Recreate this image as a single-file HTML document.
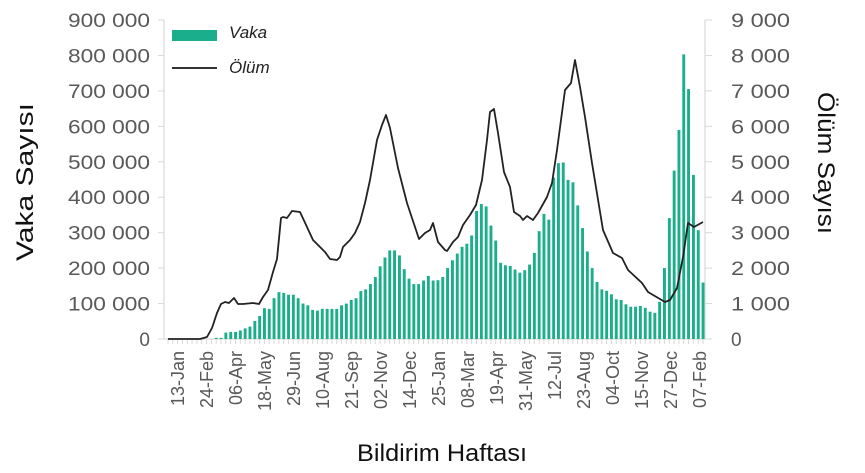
<!DOCTYPE html>
<html><head><meta charset="utf-8"><style>
html,body{margin:0;padding:0;background:#fff;}
svg{display:block;font-family:"Liberation Sans","DejaVu Sans",sans-serif;}
</style></head><body>
<svg id="c" width="865" height="473" viewBox="0 0 865 473" xmlns="http://www.w3.org/2000/svg">
<g id="g"></g>
<text x="229" y="38" font-size="17" font-style="italic" fill="#222">Vaka</text>
<text x="229" y="73" font-size="17" font-style="italic" fill="#222">Ölüm</text>
<rect x="172" y="30" width="45" height="11" fill="#1aae8c"/>
<line x1="172" y1="68" x2="217" y2="68" stroke="#333" stroke-width="2"/>
<text transform="translate(33,182) rotate(-90)" text-anchor="middle" font-size="24" fill="#111" textLength="158" lengthAdjust="spacingAndGlyphs">Vaka Sayısı</text>
<text transform="translate(818,163) rotate(90)" text-anchor="middle" font-size="24" fill="#111" textLength="142" lengthAdjust="spacingAndGlyphs">Ölüm Sayısı</text>
<text x="442" y="461" text-anchor="middle" font-size="24" fill="#111" textLength="170" lengthAdjust="spacingAndGlyphs">Bildirim Haftası</text>
</svg>
<script>
var g=document.getElementById('g'),s='';
var B=339,T=20,sc=(B-T)/900;
s+='<line x1="164" y1="'+T+'" x2="164" y2="'+B+'" stroke="#d9d9d9" stroke-width="1.2"/>';
s+='<line x1="705" y1="'+T+'" x2="705" y2="'+B+'" stroke="#d9d9d9" stroke-width="1.2"/>';
s+='<line x1="164" y1="'+B+'" x2="705" y2="'+B+'" stroke="#d9d9d9" stroke-width="1.2"/>';
var L=['0','100 000','200 000','300 000','400 000','500 000','600 000','700 000','800 000','900 000'];
var R=['0','1 000','2 000','3 000','4 000','5 000','6 000','7 000','8 000','9 000'];
for(var i=0;i<10;i++){var y=B-i*100*sc;
s+='<line x1="158" y1="'+y+'" x2="164" y2="'+y+'" stroke="#d9d9d9"/>';
s+='<line x1="705" y1="'+y+'" x2="712" y2="'+y+'" stroke="#d9d9d9"/>';
var lw=i==0?'':' textLength="'+(L[i].length*11.7).toFixed(0)+'" lengthAdjust="spacingAndGlyphs"';
s+='<text x="150" y="'+(y+7)+'" text-anchor="end" font-size="19" fill="#595959"'+lw+'>'+L[i]+'</text>';
var rw=i==0?'':' textLength="'+(R[i].length*11.7).toFixed(0)+'" lengthAdjust="spacingAndGlyphs"';
s+='<text x="731" y="'+(y+7)+'" font-size="19" fill="#595959"'+rw+'>'+R[i]+'</text>';}
var v=[0,0,0,0,0,0,0,0,0,0,3,3,18,20,20,24,30,35,51,65,87,85,115,132,130,125,125,115,100,95,82,80,85,85,85,85,95,100,110,115,135,140,155,175,205,230,250,250,236,197,170,155,155,165,178,165,
166,175,200,222,241,260,269,292,361,381,374,320,278,215,208,206,196,187,194,210,243,304,353,337,455,496,498,449,442,377,313,247,200,161,140,136,126,112,110,98,91,91,93,88,77,74,105,200,341,475,590,803,705,463,307,159];
var p=(703-168)/111;
for(var i=0;i<v.length;i++){var x=168+i*p;
s+='<line x1="'+x.toFixed(1)+'" y1="'+B+'" x2="'+x.toFixed(1)+'" y2="'+(B+5)+'" stroke="#d9d9d9"/>';
if(v[i]>0){var h=v[i]*sc;s+='<rect x="'+(x-1.4).toFixed(1)+'" y="'+(B-h).toFixed(1)+'" width="2.9" height="'+h.toFixed(1)+'" fill="#1aae8c"/>';}}
var pts=[[168,339],[200,339],[207,337],[212,328],[217,313],[221,304],[225,302],[229,303],[234,298],[238,304],[243,304],[253,303],[259,304],[263,297],[268,290],[273,272],[277,259],[281,218],[283,217],[287,218],[292,211],[300,212],[307,227],[313,240],[320,247],[325,252],[330,259],[337,260],[340,257],[343,247],[350,240],[355,233],[360,222],[365,203],[370,180],[377,140],[382,125],[386,115],[390,128],[398,168],[407,203],[419,239],[425,233],[430,230],[433,223],[438,242],[445,250],[447,251],[453,242],[458,237],[463,225],[470,215],[476,205],[482,180],[487,140],[490,112],[494,109],[498,133],[504,172],[510,187],[514,212],[520,216],[523,220],[527,216],[533,220],[538,213],[547,197],[552,183],[557,150],[565,90],[571,83],[575,60],[580,87],[585,117],[592,163],[603,230],[613,253],[622,258],[628,270],[642,283],[648,292],[665,302],[670,300],[677,288],[683,257],[688,223],[694,227],[703,222]];
s+='<polyline fill="none" stroke="#222" stroke-width="1.8" stroke-linejoin="round" points="'+pts.map(function(a){return a.join(',')}).join(' ')+'"/>';
var X=['13-Jan','24-Feb','06-Apr','18-May','29-Jun','10-Aug','21-Sep','02-Nov','14-Dec','25-Jan','08-Mar','19-Apr','31-May','12-Jul','23-Aug','04-Oct','15-Nov','27-Dec','07-Feb'];
for(var i=0;i<X.length;i++){var x=178+i*29.0;
s+='<text transform="translate('+(x+6)+',351) rotate(-90)" text-anchor="end" font-size="18" fill="#595959">'+X[i]+'</text>';}
g.innerHTML=s;
</script>
</body></html>
